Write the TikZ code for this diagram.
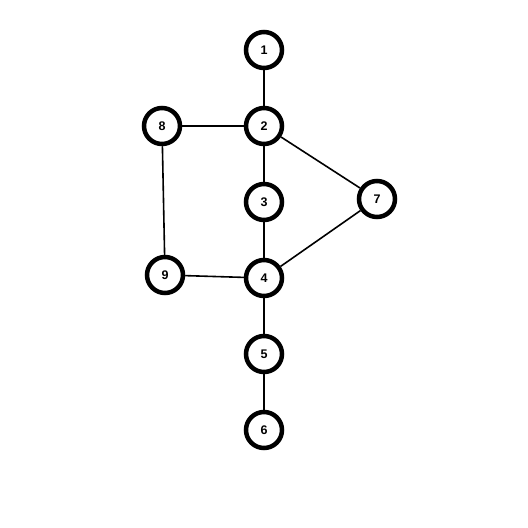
\documentclass[tikz,border=0pt]{standalone}
\usepackage{fontspec}
\setmainfont{Liberation Sans}
\usetikzlibrary{positioning}

\begin{document}
\begin{tikzpicture}[
      vertex/.style={
         circle,
         draw=black,
         fill=white,
         line width=4.5pt,
         inner sep=0pt,
         minimum size=36pt,
         font=\bfseries\fontsize{12.5}{14}\selectfont},
      edge_line/.style={
         line width=1.6pt,
         draw=black},
      node distance=35.5pt
]
      \useasboundingbox (0,0) rectangle (528pt,-528pt);
      %main column
      \node[vertex] (n1) at (264pt,-50pt) {1};
      \node[vertex,below=of n1] (n2) {2};
      \node[vertex,below=of n2] (n3) {3};
      \node[vertex,below=of n3] (n4) {4};
      \node[vertex,below=of n4] (n5) {5};
      \node[vertex,below=of n5] (n6) {6};

      %side nodes
      \node[vertex,left=61.5pt of n2] (n8) {8};
      \node[vertex,left=58.5pt of n4,yshift=3pt] (n9) {9};
      \node[vertex,right=72.5pt of n3,yshift=3pt] (n7) {7};

    \foreach \i/\j in {% start node/end node
      n1/n2, n2/n3, n3/n4, n4/n5, n5/n6,
      n2/n8, n8/n9, n9/n4,
      n2/n7, n7/n4}
      \draw [edge_line] (\i) -- (\j);
\end{tikzpicture}
\end{document}
